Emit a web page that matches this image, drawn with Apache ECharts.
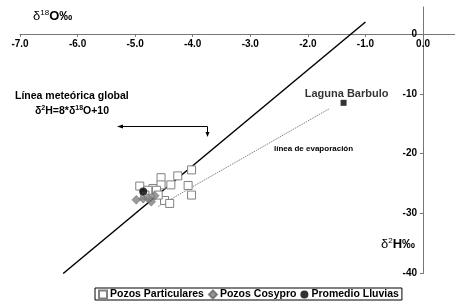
<!DOCTYPE html>
<html><head><meta charset="utf-8">
<script src="https://cdn.jsdelivr.net/npm/echarts@6/dist/echarts.min.js"></script>
<style>html,body{margin:0;padding:0;background:#fff}#c{width:456px;height:302px}</style>
</head><body><div id="c"></div>
<script>
// x = δ18O (‰), y = δ2H (‰)
const xTicks = [-7, -6, -5, -4, -3, -2, -1, 0];
const yTicks = [0, -10, -20, -30, -40];
const pozosParticulares = [
  [-4.55, -24.0], [-4.26, -23.7], [-4.02, -22.7], [-4.92, -25.4], [-4.69, -25.8],
  [-4.55, -25.2], [-4.38, -25.2], [-4.08, -25.3], [-4.02, -26.9], [-4.49, -27.8],
  [-4.40, -28.3], [-4.78, -26.1], [-4.63, -26.1], [-4.83, -26.9], [-4.60, -26.9]
];
const pozosCosypro = [[-4.98, -27.7], [-4.86, -27.5], [-4.78, -27.4], [-4.72, -28.0], [-4.66, -27.0]];
const promedioLluvias = [[-4.86, -26.3]];
const lagunaBarbulo = [[-1.38, -11.5]];
const lineaMeteorica = [[-6.25, -40], [-1.0, 2]];      // δ2H = 8*δ18O + 10
const lineaEvaporacion = [[-4.6, -28.8], [-1.63, -12.5]];

const X_MIN = -7, X_MAX = 0.55, Y_MIN = -40, Y_MAX = 4.5;
const G = { left: 20, right: 1.3, top: 7, bottom: 28.5 };
const W = 456, H = 302;
const xScale = (W - G.left - G.right) / (X_MAX - X_MIN);
const yScale = (H - G.top - G.bottom) / (Y_MAX - Y_MIN);

const F = '"Liberation Sans", Arial, sans-serif';
const chart = echarts.init(document.getElementById('c'));
chart.setOption({
  animation: false,
  backgroundColor: '#fff',
  textStyle: { fontFamily: F },
  grid: Object.assign({ containLabel: false }, G),
  xAxis: {
    type: 'value', min: X_MIN, max: X_MAX, position: 'top', offset: -(Y_MAX * yScale),
    axisLine: { onZero: false, lineStyle: { color: '#777', width: 1 } },
    axisTick: { customValues: xTicks, inside: true, length: 3, lineStyle: { color: '#777' } },
    axisLabel: { customValues: xTicks, inside: true, margin: 5, color: '#000', fontWeight: 'bold', fontSize: 10, fontFamily: F,
      formatter: v => v.toFixed(1) },
    splitLine: { show: false }
  },
  yAxis: {
    type: 'value', min: Y_MIN, max: Y_MAX, position: 'right', offset: -(X_MAX * xScale),
    axisLine: { onZero: false, lineStyle: { color: '#777', width: 1 } },
    axisTick: { customValues: yTicks, inside: true, length: 3, lineStyle: { color: '#777' } },
    axisLabel: { customValues: yTicks, inside: true, margin: 6, color: '#000', fontWeight: 'bold', fontSize: 10, fontFamily: F },
    splitLine: { show: false }
  },
  legend: {
    data: ['Pozos Particulares', 'Pozos Cosypro', 'Promedio Lluvias'],
    left: 95, top: 288, orient: 'horizontal',
    borderColor: '#000', borderWidth: 1, padding: [1, 3, 0, 3],
    itemWidth: 8, itemHeight: 8, itemGap: 4,
    textStyle: { color: '#000', fontWeight: 'bold', fontSize: 10.5, fontFamily: F, padding: [0, 0, 0, -2] }
  },
  series: [
    { name: 'meteorica', type: 'line', data: lineaMeteorica, symbol: 'none',
      lineStyle: { color: '#000', width: 1.5 }, z: 3 },
    { name: 'evaporacion', type: 'line', data: lineaEvaporacion, symbol: 'none',
      lineStyle: { color: '#808080', width: 1, type: [1.5, 1] }, z: 3 },
    { name: 'Pozos Particulares', type: 'scatter', data: pozosParticulares, symbol: 'rect', symbolSize: 8,
      itemStyle: { color: '#fff', borderColor: '#808080', borderWidth: 1, opacity: 1 }, z: 4 },
    { name: 'Pozos Cosypro', type: 'scatter', data: pozosCosypro, symbol: 'diamond', symbolSize: 9,
      itemStyle: { color: '#808080', borderColor: '#666', borderWidth: 0.5 }, z: 5 },
    { name: 'Promedio Lluvias', type: 'scatter', data: promedioLluvias, symbol: 'circle', symbolSize: 8,
      itemStyle: { color: '#000' }, z: 6 },
    { name: 'Laguna Barbulo', type: 'scatter', data: lagunaBarbulo, symbol: 'rect', symbolSize: 6,
      itemStyle: { color: '#000' }, z: 6,
      label: { show: true, position: 'top', distance: 0, offset: [3, 0], formatter: 'Laguna Barbulo',
        color: '#000', fontWeight: 'bold', fontSize: 11, fontFamily: F } }
  ],
  graphic: [
    { type: 'text', left: 33, top: 9, style: { text: '{d|δ}{s|18}{b|O‰}', rich: {
      d: { fontSize: 13, fontFamily: F, fill: '#000' },
      s: { fontSize: 8, fontFamily: F, fill: '#000', verticalAlign: 'top', padding: [0, 0, 6, 0] },
      b: { fontSize: 13, fontFamily: F, fill: '#000', fontWeight: 'bold' } } } },
    { type: 'text', left: 381, top: 237, style: { text: '{d|δ}{s|2}{b|H‰}', rich: {
      d: { fontSize: 13, fontFamily: F, fill: '#000' },
      s: { fontSize: 8, fontFamily: F, fill: '#000', verticalAlign: 'top', padding: [0, 0, 6, 0] },
      b: { fontSize: 13, fontFamily: F, fill: '#000', fontWeight: 'bold' } } } },
    { type: 'text', left: 15, top: 91, style: { text: 'Línea meteórica global', fontSize: 10.5,
      fontWeight: 'bold', fontFamily: F, fill: '#000' } },
    { type: 'text', left: 35, top: 105, style: { text: '{d|δ}{s|2}{b|H=8*δ}{s|18}{b|O+10}', rich: {
      d: { fontSize: 10.5, fontFamily: F, fill: '#000', fontWeight: 'bold' },
      s: { fontSize: 7, fontFamily: F, fill: '#000', fontWeight: 'bold', verticalAlign: 'top', padding: [0, 0, 5, 0] },
      b: { fontSize: 10.5, fontFamily: F, fill: '#000', fontWeight: 'bold' } } } },
    { type: 'text', left: 274, top: 145, style: { text: 'línea de evaporación', fontSize: 8,
      fontWeight: 'bold', fontFamily: F, fill: '#000' } },
    { type: 'polyline', shape: { points: [[121, 126.5], [207.5, 126.5], [207.5, 133]] },
      style: { stroke: '#000', lineWidth: 1, fill: null } },
    { type: 'polygon', shape: { points: [[117, 126.5], [123, 124.5], [123, 128.5]] }, style: { fill: '#000' } },
    { type: 'polygon', shape: { points: [[207.5, 137], [205.5, 132], [209.5, 132]] }, style: { fill: '#000' } }
  ]
});
</script></body></html>
